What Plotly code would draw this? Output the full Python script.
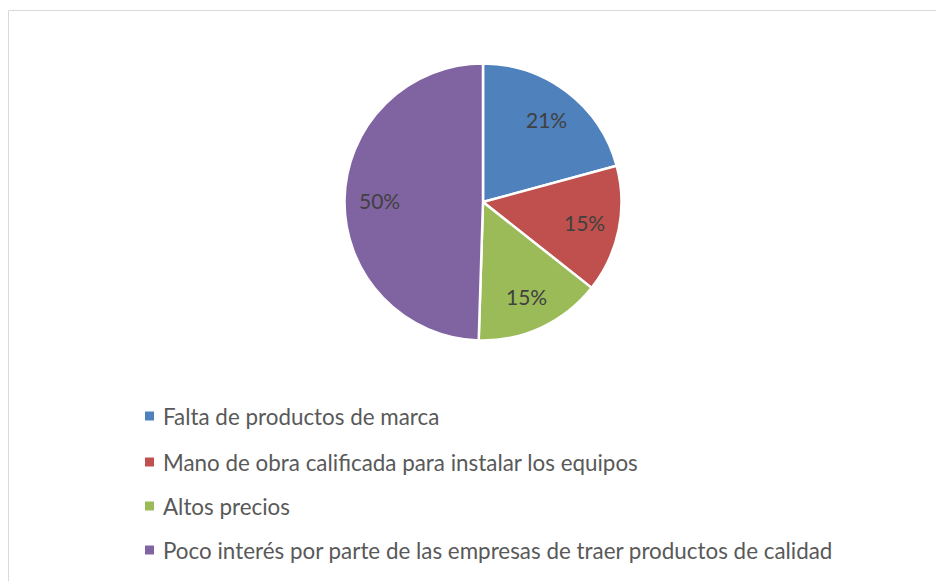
import math
import plotly.graph_objects as go

labels = [
    "Falta de productos de marca",
    "Mano de obra calificada para instalar los equipos",
    "Altos precios",
    "Poco interés por parte de las empresas de traer productos de calidad",
]
values = [21, 15, 15, 50]
colors = ["#4F81BD", "#C0504D", "#9BBB59", "#8064A2"]

W, H = 944, 581
OFF = 8  # page body margin
FONT = "Lato"

def px(x):
    return (x - OFF) / W

def py(y):
    return 1 - (y - OFF) / H

CX, CY, R = 483, 202, 138.5

fig = go.Figure()
fig.add_trace(go.Pie(
    labels=labels,
    values=values,
    sort=False,
    direction="clockwise",
    rotation=0,
    marker=dict(colors=colors, line=dict(color="white", width=2.5)),
    textinfo="none",
    domain=dict(x=[px(CX - R), px(CX + R)], y=[py(CY + R), py(CY - R)]),
    showlegend=False,
    hoverinfo="label+value",
))

annotations = []
total = sum(values)
cum = 0
for v in values:
    mid = (cum + v / 2) / total * 2 * math.pi
    cum += v
    lx = CX + 0.75 * R * math.sin(mid)
    ly = CY - 0.75 * R * math.cos(mid)
    annotations.append(dict(text=f"{v}%", xref="paper", yref="paper",
                            x=px(lx), y=py(ly), xanchor="center", yanchor="middle",
                            showarrow=False,
                            font=dict(family=FONT, size=21, color="#404040")))

legend_y = [416, 462, 506, 550]
shapes = [dict(type="rect", xref="paper", yref="paper",
               x0=px(8.5), x1=px(980), y0=py(620), y1=py(10.5),
               line=dict(color="#D9D9D9", width=1), fillcolor="rgba(0,0,0,0)")]
for lab, col, yy in zip(labels, colors, legend_y):
    shapes.append(dict(type="rect", xref="paper", yref="paper",
                       x0=px(145), x1=px(154), y0=py(yy + 4.5), y1=py(yy - 4.5),
                       line=dict(width=0), fillcolor=col))
    annotations.append(dict(text=lab, xref="paper", yref="paper",
                            x=px(161), y=py(yy), xanchor="left", yanchor="middle",
                            showarrow=False,
                            font=dict(family=FONT, size=22.4, color="#595959")))

fig.update_layout(
    width=W, height=H,
    margin=dict(l=0, r=0, t=0, b=0),
    paper_bgcolor="white",
    plot_bgcolor="white",
    shapes=shapes,
    annotations=annotations,
    font=dict(family=FONT),
)

fig.write_html("out.html")
